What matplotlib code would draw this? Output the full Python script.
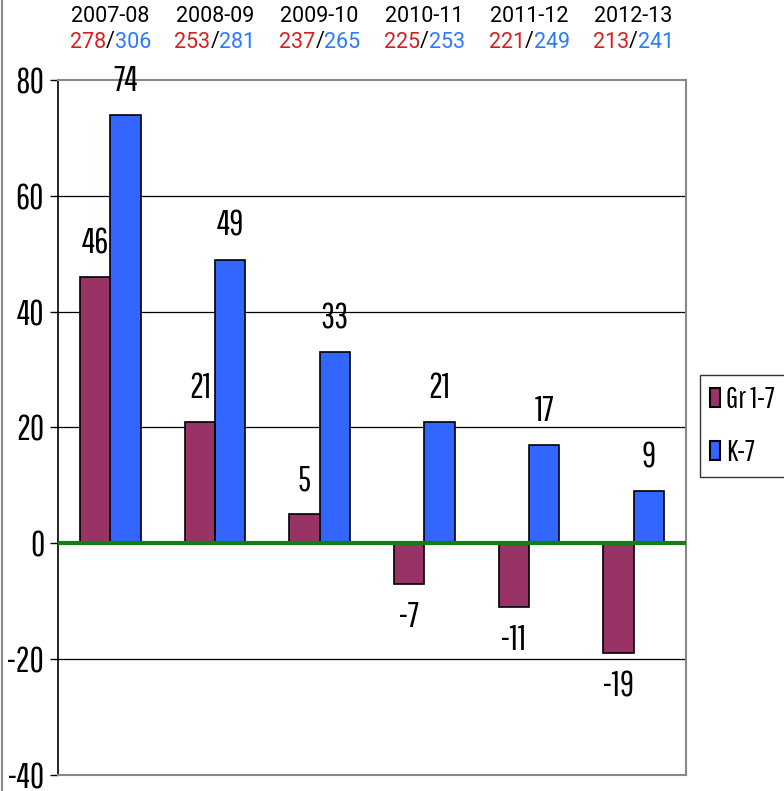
import matplotlib
matplotlib.use("Agg")
import matplotlib.pyplot as plt
import numpy as np
from matplotlib.lines import Line2D

years = ["2007-08", "2008-09", "2009-10", "2010-11", "2011-12", "2012-13"]
gr_counts = [278, 253, 237, 225, 221, 213]
k_counts = [306, 281, 265, 253, 249, 241]
gr17 = [46, 21, 5, -7, -11, -19]
k7 = [74, 49, 33, 21, 17, 9]
series_names = ["Gr 1-7", "K-7"]
yticks = [-40, -20, 0, 20, 40, 60, 80]

cond = ["Pathway Gothic One", "Roboto Condensed", "DejaVu Sans"]
top_font = ["Roboto", "DejaVu Sans"]
FS = 25

fig = plt.figure(figsize=(7.84, 7.91), dpi=100)
ax = fig.add_axes([0.074, 0.0202, 0.801, 0.8787])

x = np.arange(len(years))
w = 0.29
b1 = ax.bar(x - w / 2, gr17, w, color="#993366", edgecolor="black", linewidth=1.2, label=series_names[0], zorder=3)
b2 = ax.bar(x + w / 2, k7, w, color="#3366FF", edgecolor="black", linewidth=1.2, label=series_names[1], zorder=3)

ax.set_xlim(-0.5, len(years) - 0.5)
ax.set_ylim(-40, 80)
ax.set_yticks(yticks)
ax.set_yticklabels([str(t) for t in yticks], fontsize=FS, family=cond)
ax.set_xticks([])
for t in yticks:
    if t not in (0, -40, 80):
        ax.axhline(t, color="black", linewidth=0.9, zorder=1)
ax.axhline(0, color="#108010", linewidth=3, zorder=4)

for s in ["top", "right", "bottom"]:
    ax.spines[s].set_color("#888888")
    ax.spines[s].set_linewidth(1.5)
ax.spines["left"].set_color("black")
ax.spines["left"].set_linewidth(1.2)
ax.tick_params(axis="y", length=6, width=1, pad=4)

for bars, vals in ((b1, gr17), (b2, k7)):
    for rect, v in zip(bars, vals):
        cx = rect.get_x() + rect.get_width() / 2
        if v >= 0:
            ax.annotate(str(v), (cx, v), xytext=(0, 17), textcoords="offset points",
                        ha="center", va="baseline", fontsize=FS, family=cond)
        else:
            ax.annotate(str(v), (cx, v), xytext=(0, -31), textcoords="offset points",
                        ha="center", va="baseline", fontsize=FS, family=cond)

# header texts above plot
fig.canvas.draw()
r = fig.canvas.get_renderer()
TFS = 15.5
for i, (yr, g, k) in enumerate(zip(years, gr_counts, k_counts)):
    xf = ax.transData.transform((i, 0))[0] / fig.bbox.width
    fig.text(xf, 1 - 17 / 791, yr, ha="center", va="center", fontsize=TFS, family=top_font)
    tg = fig.text(0, 0, str(g), fontsize=TFS, family=top_font, color="#D42020", va="center")
    ts = fig.text(0, 0, "/", fontsize=TFS, family=top_font, color="black", va="center")
    tk = fig.text(0, 0, str(k), fontsize=TFS, family=top_font, color="#2a7aff", va="center")
    wg = tg.get_window_extent(r).width / fig.bbox.width
    ws = ts.get_window_extent(r).width / fig.bbox.width
    wk = tk.get_window_extent(r).width / fig.bbox.width
    x0 = xf - (wg + ws + wk) / 2
    yy = 1 - 42 / 791
    tg.set_position((x0, yy))
    ts.set_position((x0 + wg, yy))
    tk.set_position((x0 + wg + ws, yy))

LFS = 21.5
leg = fig.legend(handles=[b1, b2], labels=series_names, loc="upper left",
                 bbox_to_anchor=(700 / 784, 1 - 375 / 791), frameon=True, fancybox=False,
                 edgecolor="black", prop={"family": cond, "size": LFS},
                 handlelength=0.34, handleheight=0.6, handletextpad=0.2,
                 labelspacing=0.8, borderpad=0.33, borderaxespad=0)
leg.get_frame().set_linewidth(1.0)
for h in leg.legend_handles:
    h.set_linewidth(1.5)

fig.add_artist(Line2D([0.002, 0.002], [0, 1], transform=fig.transFigure, color="#888888", linewidth=1.5))

fig.savefig("out.png", dpi=100)
